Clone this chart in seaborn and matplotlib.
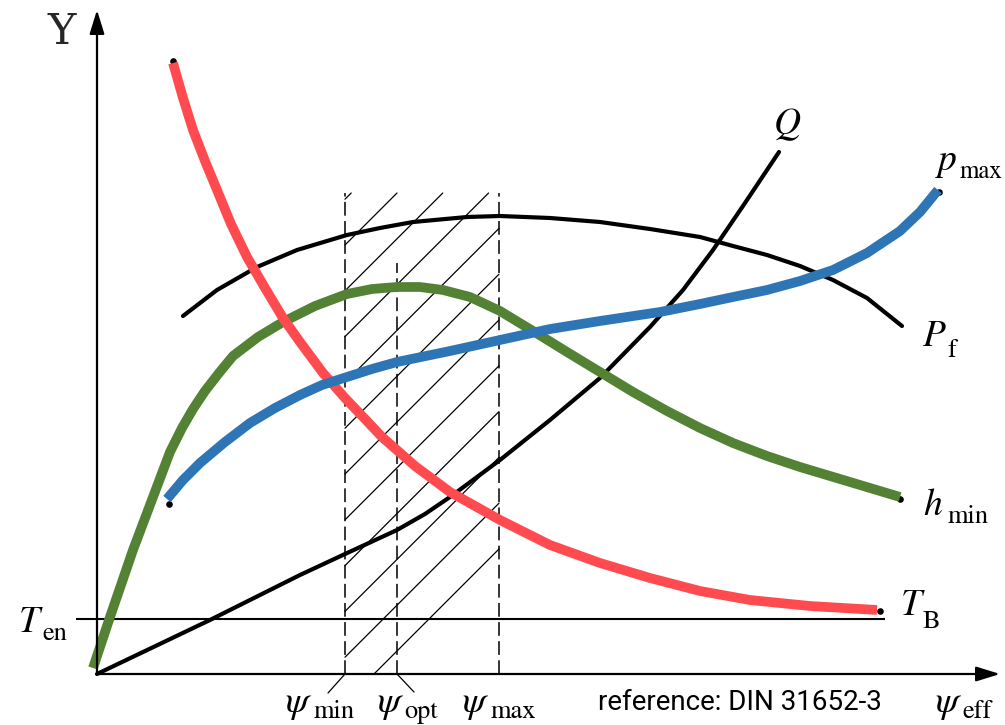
import numpy as np
import pandas as pd
import matplotlib.pyplot as plt
import seaborn as sns

# ==========================================
# Curve values (x to the right of the origin, y above the psi axis)
# ==========================================
tb_x = [76, 86, 96, 108, 120, 134, 150, 168, 186, 203, 226, 248, 268, 285, 318,
        353, 403, 453, 503, 553, 603, 653, 713, 780]
tb_y = [611, 576, 544, 513, 484, 450, 417, 386, 356, 332, 301, 276, 255, 237, 208,
        182, 154, 129, 111, 96, 83, 74, 68, 64]

hmin_x = [-4, 13, 36, 53, 73, 85, 96, 108, 122, 136, 161, 186, 218, 250, 275, 300,
          323, 346, 373, 403, 436, 470, 503, 536, 570, 603, 636, 670, 703, 753, 803]
hmin_y = [6, 57, 124, 169, 222, 246, 265, 283, 301, 318, 337, 352, 368, 380, 385, 387,
          387, 384, 377, 363, 343, 322, 302, 282, 263, 246, 231, 218, 207, 192, 177]

pmax_x = [70, 86, 103, 128, 153, 178, 203, 225, 250, 275, 300, 353, 403, 453, 503,
          563, 603, 636, 670, 703, 736, 770, 803, 823, 841]
pmax_y = [175, 194, 211, 232, 251, 266, 279, 289, 297, 305, 312, 323, 334, 345, 353,
          362, 370, 377, 384, 393, 404, 421, 443, 462, 484]

pf_x = [86, 120, 160, 200, 250, 283, 316, 370, 403, 453, 503, 553, 603, 636, 670,
        703, 736, 770, 805]
pf_y = [358, 384, 407, 424, 439, 446, 452, 457, 458, 456, 452, 445, 437, 428, 419,
        408, 394, 376, 348]

q_x = [0, 113, 203, 248, 300, 328, 353, 403, 453, 503, 553, 586, 616, 648, 682]
q_y = [0, 54, 99, 120, 144, 160, 177, 214, 254, 296, 347, 384, 424, 471, 522]

t_en = 55                 # level of the T_en line
t_en_span = (-21, 788)

psi_min, psi_opt, psi_max = 248, 300, 402
band_top = 481
opt_top = 411

x_end, y_end = 903, 664   # arrow tips

red = "#FF4B4F"
blue = "#2E75B6"
green = "#548235"

sns.set_theme(style="white")
plt.rcParams['mathtext.fontset'] = 'stix'
plt.rcParams['font.family'] = ['DejaVu Serif']

fig = plt.figure(figsize=(10.05, 7.25), dpi=100)
ax = fig.add_axes([0, 0, 1, 1])
ax.set_xlim(-97, 908)
ax.set_ylim(-51, 674)
ax.axis('off')

# axes with arrows
arrow = dict(arrowstyle='-|>,head_length=1.45,head_width=0.45', color='black',
             lw=1.6, mutation_scale=10, shrinkA=0, shrinkB=0)
ax.annotate('', xy=(x_end, 0), xytext=(0, 0), arrowprops=arrow)
ax.annotate('', xy=(0, y_end), xytext=(0, 0), arrowprops=arrow)

# T_en level
ax.hlines(t_en, *t_en_span, color='black', lw=1.5)

# hatched band between psi_min and psi_max
for c in 277 - 45.8 * np.arange(12):
    y0 = max(0, psi_min - c)
    y1 = min(band_top, psi_max - c)
    if y1 > y0:
        ax.plot([y0 + c, y1 + c], [y0, y1], color='black', lw=0.9)
ax.plot([psi_min, psi_min - 17], [0, -19], color='black', lw=0.9)
ax.plot([psi_opt, psi_opt + 17], [0, -18], color='black', lw=0.9)

dash = (0, (9, 3.5))
ax.vlines([psi_min, psi_max], 0, band_top, color='black', lw=1.1, linestyles=[dash])
ax.vlines(psi_opt, 0, opt_top, color='black', lw=1.1, linestyles=[dash])

# black curves
line_kw = dict(ax=ax, estimator=None, sort=False, legend=False)
black_kw = dict(color='black', linewidth=3, solid_capstyle='round', solid_joinstyle='round')
sns.lineplot(x=q_x, y=q_y, **black_kw, **line_kw)
sns.lineplot(x=pf_x, y=pf_y, **black_kw, **line_kw)

# small black ends showing under the coloured curves
ax.scatter([tb_x[0], tb_x[-1] + 3, pmax_x[0] + 2, pmax_x[-1] + 1, hmin_x[-1]],
           [tb_y[0] + 2, tb_y[-1] - 1, pmax_y[0] - 5, pmax_y[-1] - 2, hmin_y[-1] - 2],
           s=14, color='black', zorder=2)

# coloured curves
col_kw = dict(linewidth=7, solid_capstyle='butt', solid_joinstyle='round')
sns.lineplot(x=hmin_x, y=hmin_y, color=green, **col_kw, **line_kw)
sns.lineplot(x=tb_x, y=tb_y, color=red, **col_kw, **line_kw)
sns.lineplot(x=pmax_x, y=pmax_y, color=blue, **col_kw, **line_kw)


# labels: italic symbol plus upright subscript
def label(x, y, sym, sub, dx, dy, sub_size=19):
    ax.text(x, y, '$' + sym + '$', fontsize=27, ha='left', va='baseline', color='black')
    ax.text(x + dx, y + dy, sub, fontsize=sub_size, family='STIXGeneral',
            ha='left', va='baseline', color='black')


ax.text(-35, 642, 'Y', fontsize=31, ha='center', va='center', family='DejaVu Serif')
ax.text(690, 549, r'$Q$', fontsize=27, ha='center', va='center', color='black')
label(838, 504, 'p', 'max', 25, -8, sub_size=18)
label(825, 328, 'P', 'f', 25, -11)
label(826, 159, 'h', 'min', 25, -8)
label(803, 59, 'T', 'B', 23, -13)
label(-79, 42, 'T', 'en', 24, -8)
label(188, -38, r'\psi', 'min', 29, -6)
label(280, -38, r'\psi', 'opt', 27, -6)
label(365, -38, r'\psi', 'max', 29, -6)
label(838, -38, r'\psi', 'eff', 27, -6)
ax.text(501, -29, 'reference: DIN 31652-3', ha='left', va='center',
        fontsize=20, family='Roboto', color='black')

fig.savefig('out.png', dpi=100)
